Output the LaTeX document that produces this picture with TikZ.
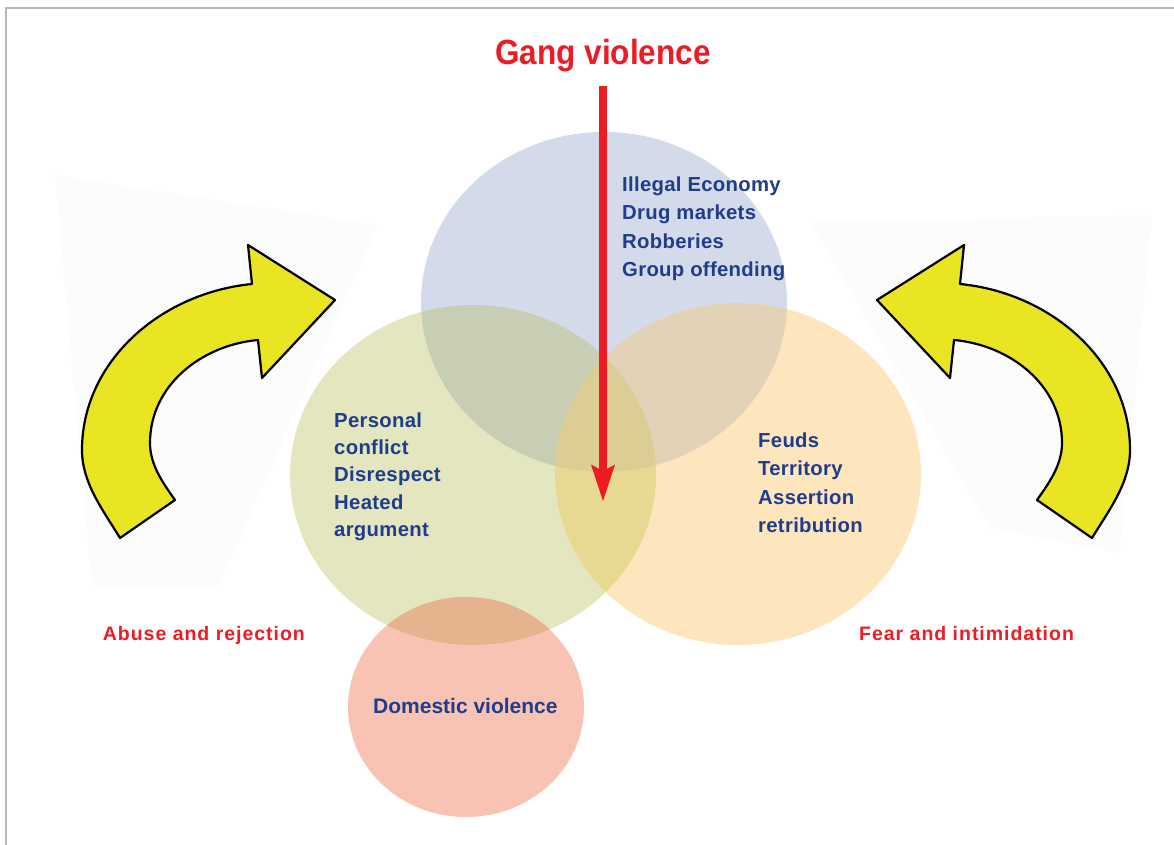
\documentclass[tikz,border=0pt]{standalone}
\usepackage{fontspec}
\setmainfont{Liberation Sans}
\newfontfamily\titlef{Liberation Sans}[FakeStretch=0.9]
\newfontfamily\labf{Liberation Sans}[LetterSpace=5]
\newfontfamily\bluef{Liberation Sans}[LetterSpace=1.5]
\usetikzlibrary{arrows.meta}
\definecolor{cblue}{RGB}{211,219,234}
\definecolor{cgreen}{RGB}{227,230,190}
\definecolor{corange}{RGB}{253,230,190}
\definecolor{cred}{RGB}{249,195,179}
\definecolor{cbg}{RGB}{200,206,180}
\definecolor{cbo}{RGB}{226,211,184}
\definecolor{cgo}{RGB}{232,217,146}
\definecolor{cbgo}{RGB}{219,205,148}
\definecolor{cgr}{RGB}{229,180,142}
\definecolor{navy}{RGB}{31,61,138}
\definecolor{gred}{RGB}{237,28,36}
\definecolor{ayellow}{RGB}{233,229,35}
\definecolor{framegray}{RGB}{180,184,188}
\definecolor{wedge}{RGB}{252,252,252}
\tikzset{
  bluetext/.style={font=\bluef\bfseries\fontsize{20.3}{28.5}\selectfont, text=navy, align=left, inner sep=0pt, anchor=north west},
  redlabel/.style={font=\labf\bfseries\fontsize{19.5}{24}\selectfont, text=gred, inner sep=0pt, anchor=base west},
  bigarrow/.style={fill=ayellow, draw=black, line width=2.2pt, line join=round},
  wedgefill/.style={fill=wedge},
}
\begin{document}
\begin{tikzpicture}[x=1pt,y=-1pt]
\useasboundingbox (0,0) rectangle (1174,845);
% frame
\draw[framegray, line width=1.8pt] (6,845) -- (6,8) -- (1174,8);
% faint wedges
\fill[wedgefill] (55,175) -- (378,225) -- (218,588) -- (92,588) -- cycle;
\fill[wedgefill] (810,222) -- (1152,215) -- (1120,553) -- (990,528) -- cycle;
% circles
\def\cB{(604,302) ellipse [x radius=183pt, y radius=170pt]}
\def\cG{(473,475) ellipse [x radius=183pt, y radius=170pt]}
\def\cO{(738,474) ellipse [x radius=183pt, y radius=171pt]}
\def\cR{(466,707) ellipse [x radius=118pt, y radius=110pt]}
\fill[cblue] \cB;
\fill[cgreen] \cG;
\fill[corange] \cO;
\fill[cred] \cR;
\begin{scope}\clip \cB; \fill[cbg] \cG; \fill[cbo] \cO; \end{scope}
\begin{scope}\clip \cG; \fill[cgo] \cO; \fill[cgr] \cR; \end{scope}
\begin{scope}\clip \cB; \clip \cG; \fill[cbgo] \cO; \end{scope}
% yellow curved arrows
\draw[bigarrow] (120,538) .. controls (103,510) and (82,483) .. (82,450)
  .. controls (82,362) and (160,293) .. (252,284)
  -- (248,245) -- (335,300) -- (262,378) -- (258,340)
  .. controls (202,345) and (150,385) .. (150,443)
  .. controls (150,465) and (163,483) .. (175,500) -- cycle;
\draw[bigarrow] (1092,538) .. controls (1109,510) and (1130,483) .. (1130,450)
  .. controls (1130,362) and (1052,293) .. (960,284)
  -- (964,245) -- (877,300) -- (950,378) -- (954,340)
  .. controls (1010,345) and (1062,385) .. (1062,443)
  .. controls (1062,465) and (1049,483) .. (1037,500) -- cycle;
% title and red arrow
\node[font=\titlef\bfseries\fontsize{35}{40}\selectfont, text=gred, inner sep=0pt, anchor=base] (title) at (603,65) {Gang violence};
\coordinate (gs) at (603,86);
\coordinate (ge) at (603,502);
\draw[gred, line width=8pt, -{Stealth[length=36pt,width=22pt,inset=5pt]}] (gs) -- (ge);
% texts
\node[bluetext] (econ) at (622,176.4) {Illegal Economy\\Drug markets\\Robberies\\Group offending};
\node[bluetext, font=\bluef\bfseries\fontsize{20.3}{27.3}\selectfont] (pers) at (334,412.4) {Personal\\conflict\\Disrespect\\Heated\\argument};
\node[bluetext, font=\bluef\bfseries\fontsize{20.3}{28.2}\selectfont] (feud) at (758,432.7) {Feuds\\Territory\\Assertion\\retribution};
\node[font=\bfseries\fontsize{21}{25}\selectfont, text=navy, inner sep=0pt, anchor=base west] (dom) at (373,713) {Domestic violence};
\node[redlabel] (abuse) at (102.7,640) {Abuse and rejection};
\node[redlabel] (fear) at (859,640) {Fear and intimidation};
\end{tikzpicture}
\end{document}
